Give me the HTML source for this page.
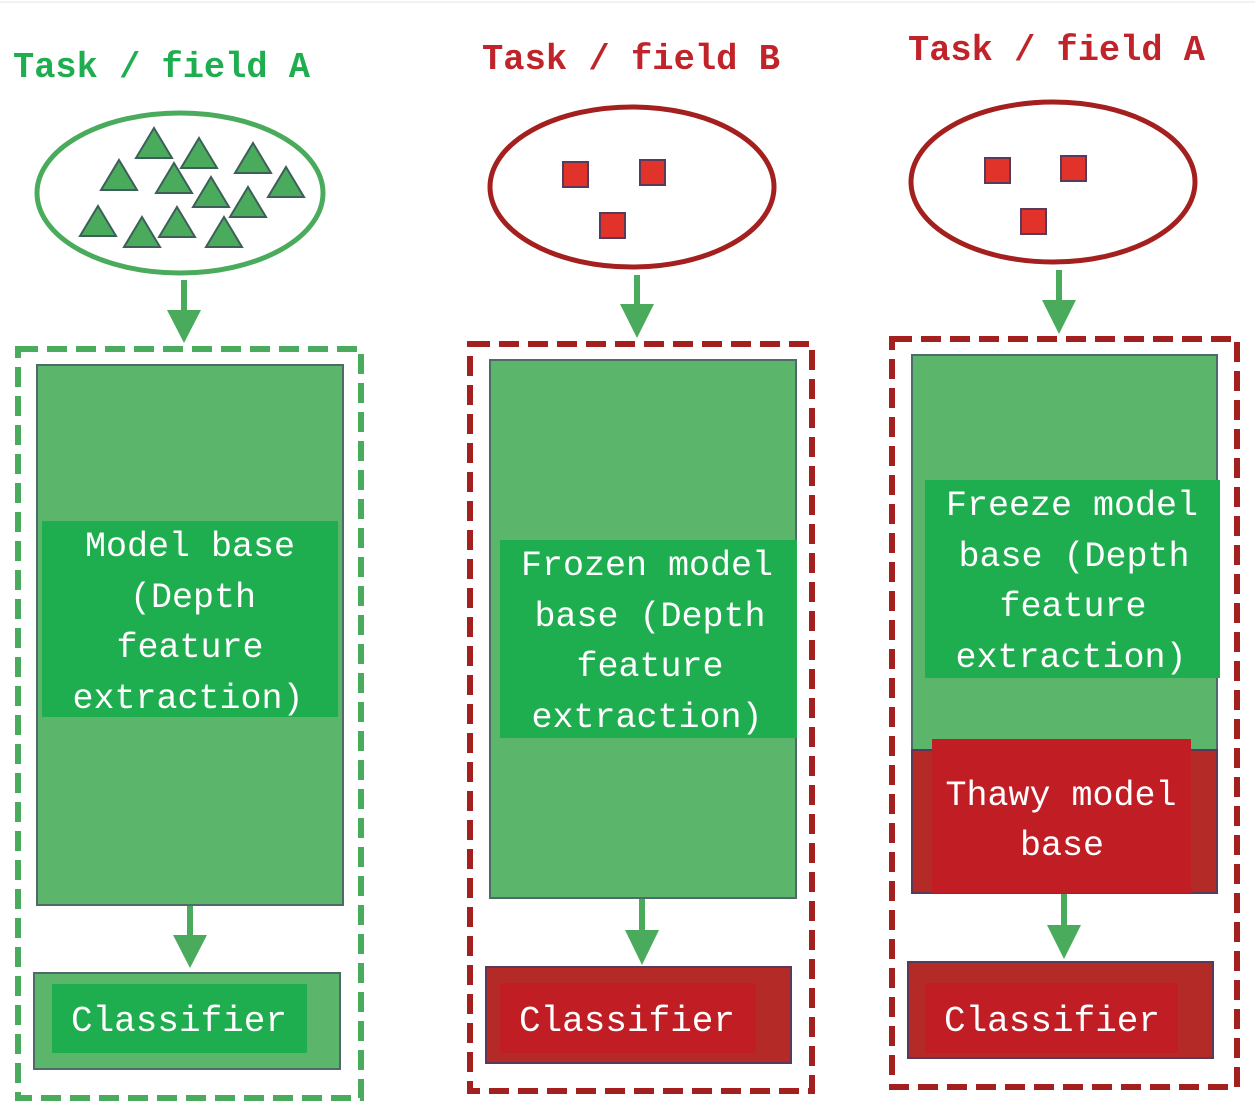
<!DOCTYPE html>
<html><head><meta charset="utf-8"><style>
html,body{margin:0;padding:0;background:#fff;}
svg{display:block;}
text{font-family:"Liberation Mono","Noto Sans CJK SC",monospace;}
</style></head><body>
<svg width="1255" height="1117" viewBox="0 0 1255 1117" xmlns="http://www.w3.org/2000/svg">
<defs>
<g id="tri"><polygon points="0,-16 18,14 -18,14" fill="#4aab5c" stroke="#3d5f5a" stroke-width="2"/></g>
<g id="sq"><rect x="0" y="0" width="25" height="25" fill="#e2332a" stroke="#5a3a5a" stroke-width="2"/></g>
</defs>
<line x1="0" y1="2" x2="1255" y2="2" stroke="#e4e4e4" stroke-width="1"/>

<!-- Titles -->
<text x="13" y="77" font-size="36" font-weight="bold" fill="#1fae4f" textLength="297" lengthAdjust="spacingAndGlyphs">Task / field A</text>
<text x="482" y="69" font-size="36" font-weight="bold" fill="#c0232a" textLength="298" lengthAdjust="spacingAndGlyphs">Task / field B</text>
<text x="908" y="60" font-size="36" font-weight="bold" fill="#c0232a" textLength="297" lengthAdjust="spacingAndGlyphs">Task / field A</text>

<!-- Column 1 -->
<ellipse cx="180" cy="193" rx="143" ry="80" fill="#fff" stroke="#4aab5c" stroke-width="5"/>
<use href="#tri" x="154" y="144"/><use href="#tri" x="199" y="154"/><use href="#tri" x="253" y="159"/>
<use href="#tri" x="119" y="176"/><use href="#tri" x="174" y="179"/><use href="#tri" x="286" y="183"/>
<use href="#tri" x="211" y="193"/><use href="#tri" x="248" y="203"/><use href="#tri" x="98" y="222"/>
<use href="#tri" x="177" y="223"/><use href="#tri" x="142" y="233"/><use href="#tri" x="224" y="233"/>
<line x1="184" y1="280" x2="184" y2="312" stroke="#4aab5c" stroke-width="6"/>
<polygon points="167,310 201,310 184,343" fill="#4aab5c"/>
<rect x="18" y="349" width="343" height="749" fill="none" stroke="#4aab5c" stroke-width="6" stroke-dasharray="20,9"/>
<rect x="37" y="365" width="306" height="540" fill="#5bb56a" stroke="#4f6a6a" stroke-width="2"/>
<rect x="42" y="521" width="296" height="196" fill="#1fae4f"/>
<g font-size="35" fill="#fff" text-anchor="middle">
<text x="190" y="556">Model base</text>
<text x="193" y="607">(Depth</text>
<text x="190" y="657">feature</text>
<text x="188" y="708">extraction)</text>
</g>
<line x1="190" y1="906" x2="190" y2="936" stroke="#4aab5c" stroke-width="6"/>
<polygon points="173,935 207,935 190,968" fill="#4aab5c"/>
<rect x="34" y="973" width="306" height="96" fill="#5bb56a" stroke="#4f6a6a" stroke-width="2"/>
<rect x="52" y="984" width="255" height="69" fill="#1fae4f"/>
<text x="179" y="1031" font-size="36" fill="#fff" text-anchor="middle">Classifier</text>

<!-- Column 2 -->
<ellipse cx="632" cy="187" rx="142" ry="80" fill="#fff" stroke="#a3201f" stroke-width="5"/>
<use href="#sq" x="563" y="162"/><use href="#sq" x="640" y="160"/><use href="#sq" x="600" y="213"/>
<line x1="637" y1="275" x2="637" y2="306" stroke="#4aab5c" stroke-width="6"/>
<polygon points="620,304 654,304 637,338" fill="#4aab5c"/>
<rect x="470" y="344" width="342" height="747" fill="none" stroke="#a3201f" stroke-width="6" stroke-dasharray="20,9"/>
<rect x="490" y="360" width="306" height="538" fill="#5bb56a" stroke="#4f6a6a" stroke-width="2"/>
<rect x="500" y="540" width="297" height="198" fill="#1fae4f"/>
<g font-size="35" fill="#fff" text-anchor="middle">
<text x="647" y="575">Frozen model</text>
<text x="650" y="626">base (Depth</text>
<text x="650" y="676">feature</text>
<text x="647" y="727">extraction)</text>
</g>
<line x1="642" y1="899" x2="642" y2="932" stroke="#4aab5c" stroke-width="6"/>
<polygon points="625,930 659,930 642,965" fill="#4aab5c"/>
<rect x="486" y="967" width="305" height="96" fill="#b42a26" stroke="#5a3a5a" stroke-width="2"/>
<rect x="500" y="983" width="256" height="70" fill="#c11d24"/>
<text x="627" y="1031" font-size="36" fill="#fff" text-anchor="middle">Classifier</text>

<!-- Column 3 -->
<ellipse cx="1053" cy="182" rx="142" ry="80" fill="#fff" stroke="#a3201f" stroke-width="5"/>
<use href="#sq" x="985" y="158"/><use href="#sq" x="1061" y="156"/><use href="#sq" x="1021" y="209"/>
<line x1="1059" y1="270" x2="1059" y2="302" stroke="#4aab5c" stroke-width="6"/>
<polygon points="1042,300 1076,300 1059,334" fill="#4aab5c"/>
<rect x="892" y="339" width="345" height="748" fill="none" stroke="#a3201f" stroke-width="6" stroke-dasharray="20,9"/>
<rect x="912" y="355" width="305" height="538" fill="#5bb56a" stroke="#4f6a6a" stroke-width="2"/>
<rect x="912" y="750" width="305" height="143" fill="#b42a26" stroke="#5a3a5a" stroke-width="2"/>
<rect x="925" y="480" width="295" height="198" fill="#1fae4f"/>
<g font-size="35" fill="#fff" text-anchor="middle">
<text x="1072" y="515">Freeze model</text>
<text x="1074" y="566">base (Depth</text>
<text x="1073" y="616">feature</text>
<text x="1071" y="667">extraction)</text>
</g>
<rect x="932" y="739" width="259" height="154" fill="#c11d24"/>
<g font-size="35" fill="#fff" text-anchor="middle">
<text x="1061" y="805">Thawy model</text>
<text x="1062" y="855">base</text>
</g>
<line x1="1064" y1="894" x2="1064" y2="927" stroke="#4aab5c" stroke-width="6"/>
<polygon points="1047,925 1081,925 1064,959" fill="#4aab5c"/>
<rect x="908" y="962" width="305" height="96" fill="#b42a26" stroke="#5a3a5a" stroke-width="2"/>
<rect x="925" y="983" width="253" height="70" fill="#c11d24"/>
<text x="1052" y="1031" font-size="36" fill="#fff" text-anchor="middle">Classifier</text>
</svg>
</body></html>
